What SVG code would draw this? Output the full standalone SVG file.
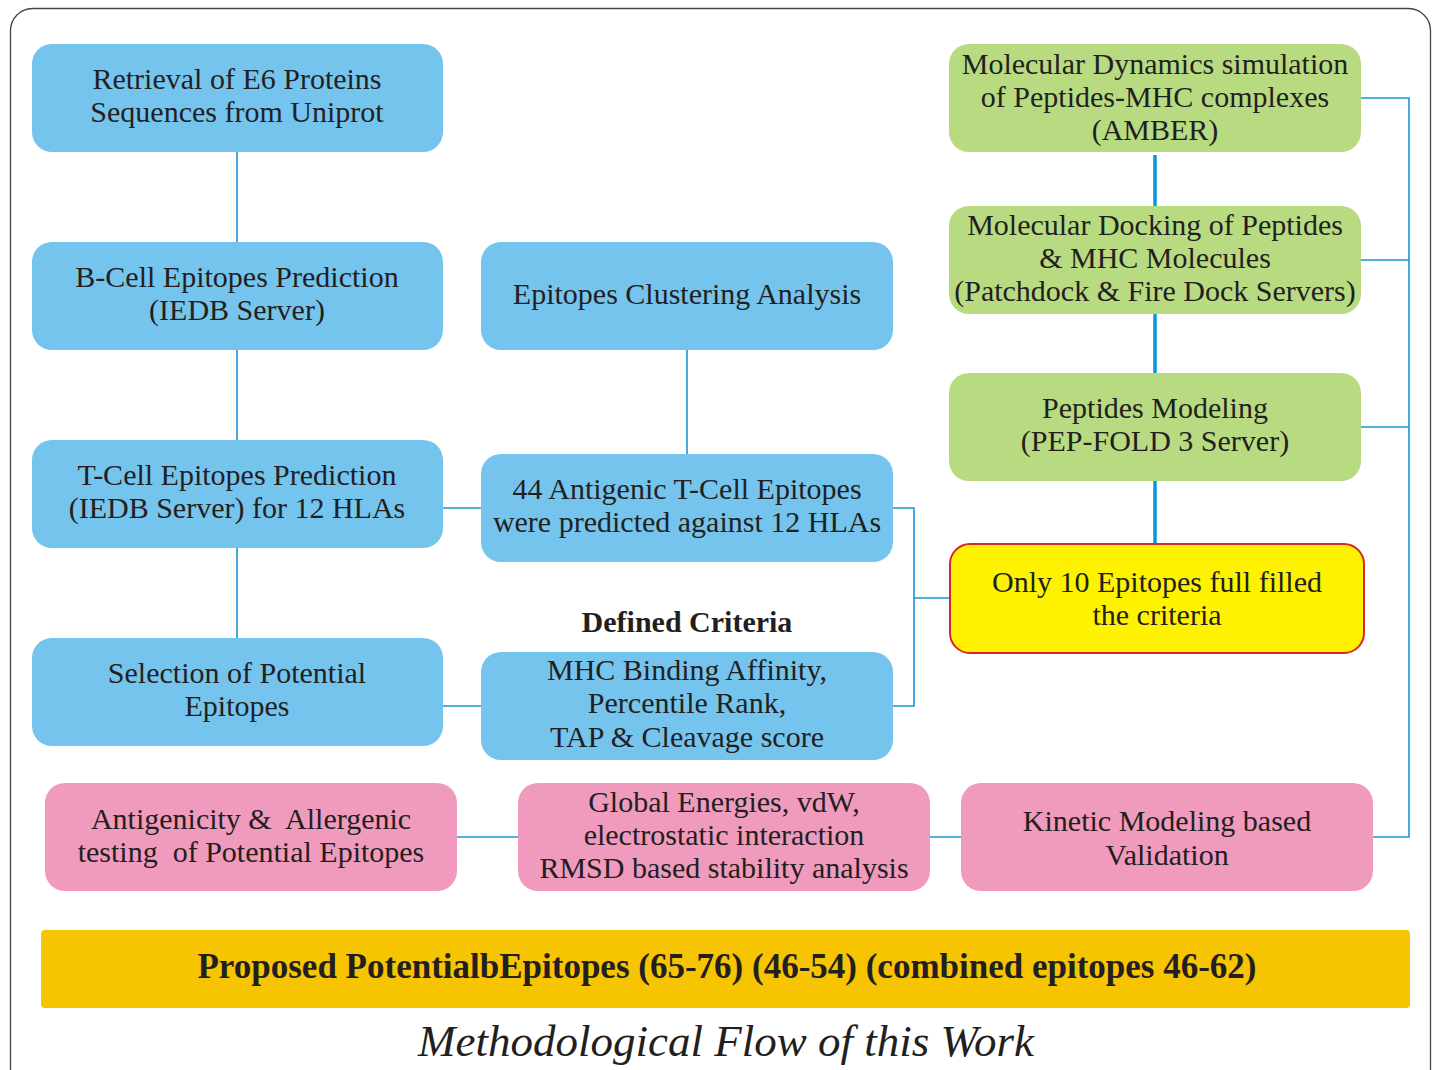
<svg xmlns="http://www.w3.org/2000/svg" width="1434" height="1070" viewBox="0 0 1434 1070">
<style>
.t{font-family:"Liberation Serif","Times New Roman",serif;font-size:30px;fill:#231f20;text-anchor:middle;white-space:pre}
.b{font-weight:bold}
.blue{fill:#75C4EE}
.green{fill:#B8DA80}
.pink{fill:#F09ABD}
.ln{stroke:#1A96D8;stroke-width:1.6;fill:none}
.thick{stroke:#0A96DA;stroke-width:3.5;fill:none}
</style>
<rect x="10.5" y="8.5" width="1420" height="1090" rx="22" fill="#fff" stroke="#444" stroke-width="1.3"/>
<g id="connectors">
<path class="ln" d="M237 152V242M237 350V440M237 548V638M687 350V454M443 508H481M443 706H481M893 508H914V706H893M914 598H949"/>
<path class="ln" d="M1361 98H1409V837H1373M1361 260H1409M1361 427H1409M457 837H518M930 837H961"/>
<path class="thick" d="M1155 155V206M1155 314V373M1155 481V543"/>
</g>
<g id="n1"><rect class="blue" x="32" y="44" width="411" height="108" rx="20"/><text class="t" x="237" y="89">Retrieval of E6 Proteins</text><text class="t" x="237" y="122">Sequences from Uniprot</text></g>
<g id="n2"><rect class="blue" x="32" y="242" width="411" height="108" rx="20"/><text class="t" x="237" y="287">B-Cell Epitopes Prediction</text><text class="t" x="237" y="320">(IEDB Server)</text></g>
<g id="n3"><rect class="blue" x="32" y="440" width="411" height="108" rx="20"/><text class="t" x="237" y="485">T-Cell Epitopes Prediction</text><text class="t" x="237" y="518">(IEDB Server) for 12 HLAs</text></g>
<g id="n4"><rect class="blue" x="32" y="638" width="411" height="108" rx="20"/><text class="t" x="237" y="683">Selection of Potential</text><text class="t" x="237" y="716">Epitopes</text></g>
<g id="m1"><rect class="blue" x="481" y="242" width="412" height="108" rx="20"/><text class="t" x="687" y="304">Epitopes Clustering Analysis</text></g>
<g id="m2"><rect class="blue" x="481" y="454" width="412" height="108" rx="20"/><text class="t" x="687" y="499">44 Antigenic T-Cell Epitopes</text><text class="t" x="687" y="532">were predicted against 12 HLAs</text></g>
<g id="criteria-label"><text class="t b" x="687" y="632">Defined Criteria</text></g>
<g id="m3"><rect class="blue" x="481" y="652" width="412" height="108" rx="20"/><text class="t" x="687" y="680">MHC Binding Affinity,</text><text class="t" x="687" y="713">Percentile Rank,</text><text class="t" x="687" y="747">TAP &amp; Cleavage score</text></g>
<g id="g1"><rect class="green" x="949" y="44" width="412" height="108" rx="20"/><text class="t" x="1155" y="74">Molecular Dynamics simulation</text><text class="t" x="1155" y="107">of Peptides-MHC complexes</text><text class="t" x="1155" y="140">(AMBER)</text></g>
<g id="g2"><rect class="green" x="949" y="206" width="412" height="108" rx="20"/><text class="t" x="1155" y="235">Molecular Docking of Peptides</text><text class="t" x="1155" y="268">&amp; MHC Molecules</text><text class="t" x="1155" y="301">(Patchdock &amp; Fire Dock Servers)</text></g>
<g id="g3"><rect class="green" x="949" y="373" width="412" height="108" rx="20"/><text class="t" x="1155" y="418">Peptides Modeling</text><text class="t" x="1155" y="451">(PEP-FOLD 3 Server)</text></g>
<g id="y1"><rect x="950" y="544" width="414" height="109" rx="20" fill="#FFF200" stroke="#D7262C" stroke-width="2"/><text class="t" x="1157" y="592">Only 10 Epitopes full filled</text><text class="t" x="1157" y="625">the criteria</text></g>
<g id="p1"><rect class="pink" x="45" y="783" width="412" height="108" rx="20"/><text class="t" x="251" y="829">Antigenicity &amp;  Allergenic</text><text class="t" x="251" y="862">testing  of Potential Epitopes</text></g>
<g id="p2"><rect class="pink" x="518" y="783" width="412" height="108" rx="20"/><text class="t" x="724" y="812">Global Energies, vdW,</text><text class="t" x="724" y="845">electrostatic interaction</text><text class="t" x="724" y="878">RMSD based stability analysis</text></g>
<g id="p3"><rect class="pink" x="961" y="783" width="412" height="108" rx="20"/><text class="t" x="1167" y="831">Kinetic Modeling based</text><text class="t" x="1167" y="865">Validation</text></g>
<g id="result"><rect x="41" y="930" width="1369" height="78" rx="4" fill="#F6C400"/><text class="t b" x="727" y="978" style="font-size:35px">Proposed PotentialbEpitopes (65-76) (46-54) (combined epitopes 46-62)</text></g>
<text class="t" x="726" y="1056" style="font-size:45px;font-style:italic">Methodological Flow of this Work</text>
</svg>
